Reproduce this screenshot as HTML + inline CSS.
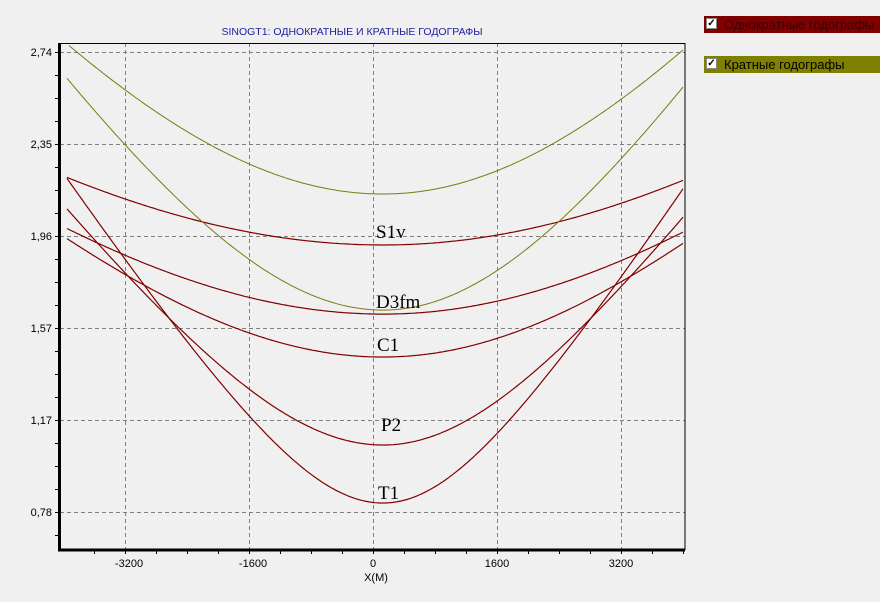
<!DOCTYPE html>
<html><head><meta charset="utf-8"><style>
html,body{margin:0;padding:0;background:#f0f0f0;}
body{width:880px;height:602px;overflow:hidden;position:relative;font-family:"Liberation Sans",sans-serif;}
.lg{position:absolute;left:704px;width:176px;height:17px;overflow:hidden;white-space:nowrap;font-size:13px;line-height:17px;}
.cb{position:absolute;left:2px;top:2px;width:11px;height:11px;background:#fff;border:1px solid #888;box-sizing:border-box;font-size:10px;line-height:10px;text-align:center;color:#000;font-weight:bold;}
.lg span.t{position:absolute;left:20px;top:0;}
</style></head><body>
<svg id="s" width="880" height="602" style="position:absolute;left:0;top:0">
<text x="352" y="35" font-size="10.5" fill="#2020a0" text-anchor="middle" font-family="Liberation Sans">SINOGT1: ОДНОКРАТНЫЕ И КРАТНЫЕ ГОДОГРАФЫ</text>
<g stroke="#808080" stroke-dasharray="4,3" stroke-width="1">
<line x1="60" y1="52.5" x2="685" y2="52.5"/><line x1="60" y1="144.5" x2="685" y2="144.5"/>
<line x1="60" y1="236.5" x2="685" y2="236.5"/><line x1="60" y1="328.5" x2="685" y2="328.5"/>
<line x1="60" y1="420.5" x2="685" y2="420.5"/><line x1="60" y1="512.5" x2="685" y2="512.5"/>
<line x1="125.5" y1="43" x2="125.5" y2="549"/><line x1="249.5" y1="43" x2="249.5" y2="549"/>
<line x1="373.5" y1="43" x2="373.5" y2="549"/><line x1="497.5" y1="43" x2="497.5" y2="549"/>
<line x1="621.5" y1="43" x2="621.5" y2="549"/>
</g>
<g id="curves" fill="none"></g>
<rect x="59.5" y="43.5" width="625.5" height="506" fill="none" stroke="#000" stroke-width="1"/>
<line x1="59.5" y1="43" x2="59.5" y2="551" stroke="#000" stroke-width="3"/>
<line x1="58" y1="550" x2="685" y2="550" stroke="#000" stroke-width="3"/>
<g id="ticks" stroke="#000" stroke-width="1"></g>
<g font-size="11" fill="#000" text-anchor="end" font-family="Liberation Sans">
<text x="52" y="56">2,74</text><text x="52" y="148">2,35</text><text x="52" y="240">1,96</text>
<text x="52" y="332">1,57</text><text x="52" y="424">1,17</text><text x="52" y="516">0,78</text>
</g>
<g font-size="11" fill="#000" text-anchor="middle" font-family="Liberation Sans">
<text x="129" y="567">-3200</text><text x="253" y="567">-1600</text><text x="373" y="567">0</text>
<text x="497" y="567">1600</text><text x="621" y="567">3200</text><text x="376" y="581">X(M)</text>
</g>
<g font-size="19" fill="#000" font-family="Liberation Serif">
<text x="376" y="238">S1v</text><text x="376" y="308">D3fm</text><text x="377" y="351">C1</text>
<text x="381" y="431">P2</text><text x="378" y="499">T1</text>
</g>
</svg>
<div class="lg" style="top:16px;background:#800000;color:#3a0000;"><div class="cb">✓</div><span class="t">Однократные годографы</span></div>
<div class="lg" style="top:56px;background:#808000;color:#000;"><div class="cb">✓</div><span class="t">Кратные годографы</span></div>
<script>
var g=document.getElementById('curves');
function Y(t){return 52+(2.74-t)/0.004239;}
var cs=[[1.922,290.6,'#800000',1.2],[1.629,275.7,'#800000',1.2],[1.447,242,'#800000',1.2],[1.074,178,'#800000',1.2],[0.828,154.7,'#800000',1.2],[2.138,178.7,'#7a7a10',1],[1.646,154.2,'#7a7a10',1]];
cs.forEach(function(c){var d='';for(var x=67;x<=684;x+=2){var a=x>383?c[1]*0.972:c[1];var dx=(x-383)/a;var t=Math.sqrt(c[0]*c[0]+dx*dx);var y=Y(t);if(y<44)continue;d+=(d?'L':'M')+x+','+y.toFixed(1);}
var p=document.createElementNS('http://www.w3.org/2000/svg','path');p.setAttribute('d',d);p.setAttribute('stroke',c[2]);p.setAttribute('stroke-width',c[3]);g.appendChild(p);});
var tk=document.getElementById('ticks');
function ln(a,b,c,d){var l=document.createElementNS('http://www.w3.org/2000/svg','line');l.setAttribute('x1',a);l.setAttribute('y1',b);l.setAttribute('x2',c);l.setAttribute('y2',d);tk.appendChild(l);}
for(var y=52.5;y<550;y+=23)ln(55,y,59,y);
for(var x=94.5;x<685;x+=31)ln(x,550,x,554);
</script>
</body></html>
